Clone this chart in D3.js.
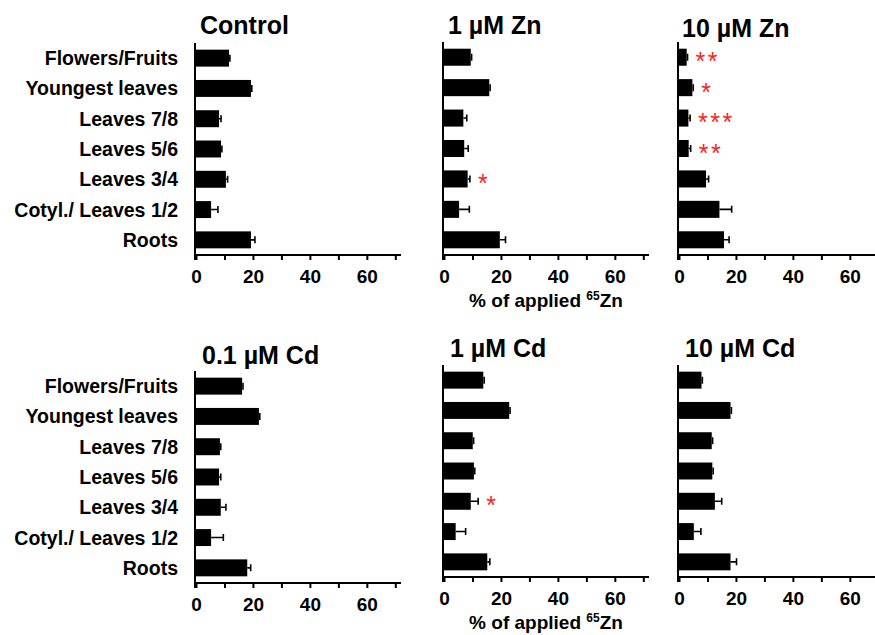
<!DOCTYPE html>
<html>
<head>
<meta charset="utf-8">
<script src="https://cdn.jsdelivr.net/npm/d3@7"></script>
<style>
  body { margin: 0; background: #fff; }
  svg { font-family: "Liberation Sans", Arial, sans-serif; font-weight: bold; }
</style>
</head>
<body>
<div id="chart"></div>
<script>
// Data (% of applied 65Zn)
const categories = ["Flowers/Fruits", "Youngest leaves", "Leaves 7/8", "Leaves 5/6", "Leaves 3/4", "Cotyl./ Leaves 1/2", "Roots"];
const panelTitles = ["Control", "1 µM Zn", "10 µM Zn", "0.1 µM Cd", "1 µM Cd", "10 µM Cd"];
const xTicks = [0, 10, 20, 30, 40, 50, 60, 70];
const xTickLabels = [0, 20, 40, 60];

const controlMean = [11.6, 19.3, 8.1, 8.8, 10.5, 5.3, 19.3];
const controlErr  = [0.3, 0.3, 0.7, 0.3, 0.6, 2.4, 1.4];
const zn1Mean = [9.4, 15.9, 6.8, 7.1, 8.3, 5.3, 19.6];
const zn1Err  = [0.3, 0.3, 1.2, 1.4, 0.8, 3.6, 2.0];
const zn10Mean = [2.7, 4.7, 3.3, 3.4, 9.5, 14.2, 15.8];
const zn10Err  = [0.3, 0.3, 0.6, 0.7, 0.9, 4.3, 1.8];
const cd01Mean = [16.2, 22.1, 8.4, 8.1, 8.7, 5.3, 18.0];
const cd01Err  = [0.3, 0.3, 0.3, 0.6, 1.8, 4.3, 1.2];
const cd1Mean = [13.8, 22.9, 10.1, 10.5, 9.4, 4.1, 15.2];
const cd1Err  = [0.3, 0.3, 0.3, 0.3, 2.6, 3.5, 0.9];
const cd10Mean = [7.9, 18.1, 11.5, 11.7, 12.6, 5.2, 18.1];
const cd10Err  = [0.3, 0.3, 0.3, 0.3, 2.4, 2.5, 2.1];

const noStars = ["", "", "", "", "", "", ""];
const zn1Stars = ["", "", "", "", "*", "", ""];
const zn10Stars = ["**", "*", "***", "**", "", "", ""];
const cd1Stars = ["", "", "", "", "*", "", ""];

const svg = d3.select("#chart").append("svg")
    .attr("width", 875)
    .attr("height", 635);

// panel layout
const panels = [
    { title: panelTitles[0], mean: controlMean, err: controlErr, stars: noStars, left: 196, top: 43, bottom: 255, tx: 200, ty: 34, labels: true, xlab: false },
    { title: panelTitles[1], mean: zn1Mean, err: zn1Err, stars: zn1Stars, left: 444, top: 42, bottom: 255, tx: 448, ty: 34, labels: false, xlab: true },
    { title: panelTitles[2], mean: zn10Mean, err: zn10Err, stars: zn10Stars, left: 679, top: 42, bottom: 255, tx: 682, ty: 37, labels: false, xlab: false },
    { title: panelTitles[3], mean: cd01Mean, err: cd01Err, stars: noStars, left: 196, top: 371, bottom: 583, tx: 202, ty: 364, labels: true, xlab: false },
    { title: panelTitles[4], mean: cd1Mean, err: cd1Err, stars: cd1Stars, left: 444, top: 365, bottom: 577, tx: 450, ty: 357, labels: false, xlab: true },
    { title: panelTitles[5], mean: cd10Mean, err: cd10Err, stars: noStars, left: 679, top: 365, bottom: 577, tx: 685, ty: 357, labels: false, xlab: false }
];

panels.forEach(p => {
    const x = d3.scaleLinear().domain([0, 72]).range([p.left, p.left + 205]);
    const y = d3.scaleBand().domain(categories).range([p.top, p.bottom]).paddingInner(0.44).paddingOuter(0.22);
    const rows = categories.map((c, i) => ({ cat: c, v: p.mean[i], e: p.err[i], s: p.stars[i] }));

    const g = svg.append("g");

    // bars
    g.selectAll(".bar").data(rows).enter().append("rect")
        .attr("x", x(0))
        .attr("y", d => y(d.cat))
        .attr("width", d => x(d.v) - x(0))
        .attr("height", y.bandwidth())
        .attr("fill", "#000");

    // error bars (one-sided)
    g.selectAll(".err").data(rows).enter().append("path")
        .attr("d", d => {
            const cy = y(d.cat) + y.bandwidth() / 2;
            const x1 = x(d.v), x2 = x(d.v + d.e);
            return `M${x1},${cy}H${x2}M${x2},${cy - 3.5}V${cy + 3.5}`;
        })
        .attr("stroke", "#000")
        .attr("stroke-width", 1.6)
        .attr("fill", "none");

    // significance stars
    g.selectAll(".star").data(rows.filter(d => d.s)).enter().append("text")
        .attr("x", d => x(d.v + d.e) + 8)
        .attr("y", d => y(d.cat) + y.bandwidth() / 2 + 13)
        .attr("fill", "#ff2020")
        .attr("font-size", 25)
        .attr("font-weight", "normal")
        .attr("letter-spacing", 2.5)
        .text(d => d.s);

    // x axis
    const xa = g.append("g")
        .attr("transform", `translate(0,${p.bottom})`)
        .call(d3.axisBottom(x).tickValues(xTicks).tickSize(5).tickPadding(10)
            .tickFormat(d => xTickLabels.includes(d) ? d : ""));
    xa.select(".domain").attr("stroke-width", 2).attr("d", `M${x(0) - 1},0H${x(72)}`);
    xa.selectAll(".tick line").attr("stroke-width", 2);
    xa.selectAll(".tick text")
        .attr("font-size", 19)
        .attr("font-family", "Liberation Sans, Arial, sans-serif")
        .attr("font-weight", "bold")
        .attr("fill", "#000");

    // y axis line
    g.append("line")
        .attr("x1", x(0) - 1).attr("x2", x(0) - 1)
        .attr("y1", p.top).attr("y2", p.bottom + 5)
        .attr("stroke", "#000").attr("stroke-width", 2);

    // category labels
    if (p.labels) {
        g.selectAll(".lab").data(rows).enter().append("text")
            .attr("x", x(0) - 18)
            .attr("y", d => y(d.cat) + y.bandwidth() / 2)
            .attr("dy", "0.36em")
            .attr("text-anchor", "end")
            .attr("font-size", 19.5)
            .text(d => d.cat);
    }

    // panel title
    g.append("text")
        .attr("x", p.tx)
        .attr("y", p.ty)
        .attr("font-size", 25)
        .text(p.title);

    // x axis title
    if (p.xlab) {
        const t = g.append("text")
            .attr("x", x(0) + 102)
            .attr("y", p.bottom + 52)
            .attr("text-anchor", "middle")
            .attr("font-size", 19);
        t.append("tspan").text("% of applied ");
        t.append("tspan").attr("font-size", 12).attr("dy", -7).text("65");
        t.append("tspan").attr("dy", 7).text("Zn");
    }
});
</script>
</body>
</html>
